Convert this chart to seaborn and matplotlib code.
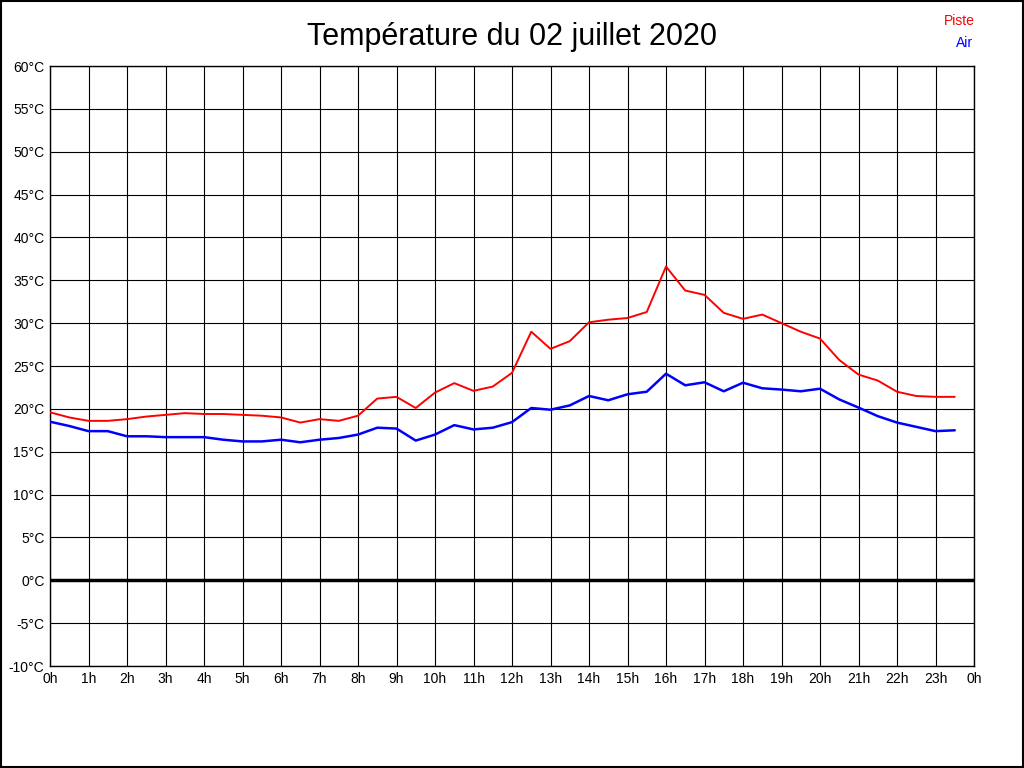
import numpy as np
import pandas as pd
import seaborn as sns
import matplotlib.pyplot as plt
from matplotlib.patches import Rectangle

# half-hourly readings, 0h .. 23h30
hours = [i * 0.5 for i in range(48)]
piste = [19.6, 19.0, 18.6, 18.6, 18.8, 19.1, 19.3, 19.5, 19.4, 19.4, 19.3, 19.2,
         19.0, 18.4, 18.8, 18.6, 19.2, 21.2, 21.4, 20.1, 21.9, 23.0, 22.1, 22.6,
         24.2, 29.0, 27.0, 27.9, 30.1, 30.4, 30.6, 31.3, 36.6, 33.8, 33.3, 31.2,
         30.5, 31.0, 30.0, 29.0, 28.2, 25.7, 24.0, 23.3, 22.0, 21.5, 21.4, 21.4]
air = [18.5, 18.0, 17.4, 17.4, 16.8, 16.8, 16.7, 16.7, 16.7, 16.4, 16.2, 16.2,
       16.4, 16.1, 16.4, 16.6, 17.0, 17.8, 17.7, 16.3, 17.0, 18.1, 17.6, 17.8,
       18.45, 20.1, 19.9, 20.4, 21.5, 21.0, 21.7, 22.0, 24.1, 22.75, 23.1, 22.05,
       23.05, 22.4, 22.25, 22.05, 22.35, 21.1, 20.15, 19.15, 18.4, 17.9, 17.4, 17.5]

x_ticks = list(range(25))
x_labels = [f"{h % 24}h" for h in x_ticks]
y_ticks = list(range(-10, 61, 5))
y_labels = [f"{t}°C" for t in y_ticks]

df = pd.DataFrame({"heure": hours, "Piste": piste, "Air": air})

sns.set_style("white")
plt.rcParams["font.family"] = ["Liberation Sans", "DejaVu Sans"]
plt.rcParams["text.color"] = "black"
plt.rcParams["xtick.color"] = "black"
plt.rcParams["ytick.color"] = "black"

fig = plt.figure(figsize=(10.24, 7.68), dpi=100)
ax = fig.add_axes([50 / 1024, (768 - 666) / 768, 924 / 1024, 600 / 768])

# grid
for t in y_ticks:
    ax.axhline(t, color="black", lw=0.8, zorder=1)
for h in x_ticks:
    ax.axvline(h, color="black", lw=0.8, zorder=1)
ax.axhline(0, color="black", lw=2.5, zorder=2)

sns.lineplot(data=df, x="heure", y="Piste", color="#ff0000", lw=1.4, ax=ax, zorder=3)
sns.lineplot(data=df, x="heure", y="Air", color="#0000ff", lw=1.8, ax=ax, zorder=4)

ax.set_xlim(0, 24)
ax.set_ylim(-10, 60)
ax.set_xticks(x_ticks)
ax.set_xticklabels(x_labels, fontsize=10)
ax.set_yticks(y_ticks)
ax.set_yticklabels(y_labels, fontsize=10)
ax.tick_params(length=0, pad=4)
ax.set_xlabel("")
ax.set_ylabel("")
for s in ax.spines.values():
    s.set_color("black")
    s.set_linewidth(1)

fig.text(0.5, 1 - 37 / 768, "Température du 02 juillet 2020", ha="center", va="center",
         fontsize=22, color="black")
fig.text(975 / 1024, 1 - 21 / 768, "Piste", color="#ff0000", ha="right", va="center", fontsize=10)
fig.text(973 / 1024, 1 - 43 / 768, "Air", color="#0000ff", ha="right", va="center", fontsize=10)

fig.patches.append(Rectangle((0.001, 0.001), 0.998, 0.998, transform=fig.transFigure,
                             fill=False, edgecolor="black", lw=1.5))

fig.savefig("out.png", dpi=100)
